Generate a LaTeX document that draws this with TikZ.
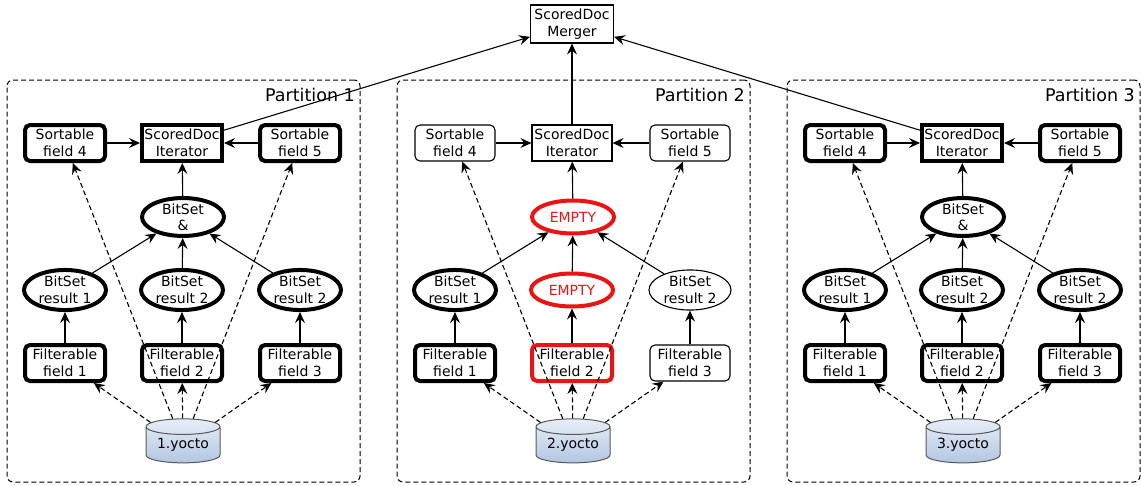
\documentclass[tikz,border=0pt]{standalone}
\usepackage{fontspec}
\setmainfont{DejaVu Sans}
\usetikzlibrary{arrows.meta,shapes.geometric}

\definecolor{dbtop}{RGB}{232,238,248}
\definecolor{dbbot}{RGB}{178,198,226}
\definecolor{alarm}{RGB}{235,20,20}

\tikzset{
  txt/.style={align=center, inner sep=0pt, font=\fontsize{14}{17.5}\selectfont},
  box/.style={txt, draw, minimum width=80pt, minimum height=36pt},
  rbox/.style={box, rounded corners=5pt},
  oval/.style={txt, ellipse, draw, minimum width=82pt, minimum height=33pt},
  % line weights
  heavy/.style={line width=4pt},
  light/.style={line width=1.1pt},
  alert/.style={line width=4pt, draw=alarm},
  % node kinds
  sortheavy/.style={rbox, heavy},   sortlight/.style={rbox, light},
  iterheavy/.style={box, heavy},    iterlight/.style={box, light},
  ovalheavy/.style={oval, heavy},   ovallight/.style={oval, light},
  ovalalert/.style={oval, alert, text=alarm},
  andheavy/.style={oval, heavy, minimum height=28pt, font=\fontsize{14}{16}\selectfont},
  andalert/.style={oval, alert, text=alarm},
  fheavy/.style={rbox, heavy},      flight/.style={rbox, light},
  falert/.style={rbox, alert},
  store/.style={txt, cylinder, shape border rotate=90, aspect=0.3,
    draw=black!65, line width=1pt, top color=dbtop, bottom color=dbbot,
    minimum width=74pt, minimum height=44pt},
  partframe/.style={draw, dashed, dash pattern=on 5pt off 3pt, line width=1pt,
    rounded corners=6pt, minimum width=353pt, minimum height=402pt, inner sep=0pt},
  partlabel/.style={inner sep=0pt, font=\fontsize{17.5}{20}\selectfont},
  arr/.style={-{Stealth[length=11pt,width=10pt,inset=4pt]}, line width=1.1pt},
  darr/.style={arr, dash pattern=on 5pt off 3pt},
  % per-partition looks
  p1sort/.style={sortheavy}, p1iter/.style={iterheavy}, p1and/.style={andheavy},
  p1ra/.style={ovalheavy}, p1rb/.style={ovalheavy}, p1rc/.style={ovalheavy},
  p1fa/.style={fheavy}, p1fb/.style={fheavy}, p1fc/.style={fheavy},
  p2sort/.style={sortlight}, p2iter/.style={iterlight}, p2and/.style={andalert},
  p2ra/.style={ovalheavy}, p2rb/.style={ovalalert}, p2rc/.style={ovallight},
  p2fa/.style={fheavy}, p2fb/.style={falert}, p2fc/.style={flight},
  p3sort/.style={sortheavy}, p3iter/.style={iterheavy}, p3and/.style={andheavy},
  p3ra/.style={ovalheavy}, p3rb/.style={ovalheavy}, p3rc/.style={ovalheavy},
  p3fa/.style={fheavy}, p3fb/.style={fheavy}, p3fc/.style={fheavy},
}

% #1 partition number, #2 horizontal offset, #3 text of the merge node, #4 text of the middle result
\newcommand{\partitionblock}[4]{%
  \begin{scope}[xshift=#2pt]
    \node[partframe] (frame#1) at (183.5,281) {};
    \node[partlabel, anchor=east] (plabel#1) at (355,95) {Partition #1};
    \node[p#1sort] (sa#1) at (65,143) {Sortable\\field 4};
    \node[p#1iter] (it#1) at (182,143) {ScoredDoc\\Iterator};
    \node[p#1sort] (sb#1) at (300,143) {Sortable\\field 5};
    \node[p#1and] (and#1) at (183,217) {#3};
    \node[p#1ra] (ra#1) at (65,290) {BitSet\\result 1};
    \node[p#1rb] (rb#1) at (182,290) {#4};
    \node[p#1rc] (rc#1) at (300,290) {BitSet\\result 2};
    \node[p#1fa] (fa#1) at (65,363) {Filterable\\field 1};
    \node[p#1fb] (fb#1) at (182,363) {Filterable\\field 2};
    \node[p#1fc] (fc#1) at (300,363) {Filterable\\field 3};
    \node[store] (db#1) at (183,445) {#1.yocto};
  \end{scope}
  \draw[arr] (sa#1) -- (it#1);
  \draw[arr] (sb#1) -- (it#1);
  \draw[arr] (and#1) -- (it#1);
  \draw[arr] (ra#1) -- (and#1);
  \draw[arr] (rb#1) -- (and#1);
  \draw[arr] (rc#1) -- (and#1);
  \draw[arr] (fa#1) -- (ra#1);
  \draw[arr] (fb#1) -- (rb#1);
  \draw[arr] (fc#1) -- (rc#1);
  \draw[darr] (db#1) -- (fa#1);
  \draw[darr] (db#1) -- (fb#1);
  \draw[darr] (db#1) -- (fc#1);
  \draw[darr] (db#1) -- (sa#1);
  \draw[darr] (db#1) -- (sb#1);
}

\begin{document}
\begin{tikzpicture}[x=1pt, y=-1pt]
  \useasboundingbox (0,0) rectangle (1141,485);
  \node[box, light, minimum width=83pt, minimum height=38pt] (merger) at (572,24) {ScoredDoc\\Merger};
  \partitionblock{1}{0}{BitSet\\\&}{BitSet\\result 2}
  \partitionblock{2}{390}{EMPTY}{EMPTY}
  \partitionblock{3}{780}{BitSet\\\&}{BitSet\\result 2}
  \draw[arr] (it1) -- (merger);
  \draw[arr] (it2) -- (merger);
  \draw[arr] (it3) -- (merger);
\end{tikzpicture}
\end{document}
